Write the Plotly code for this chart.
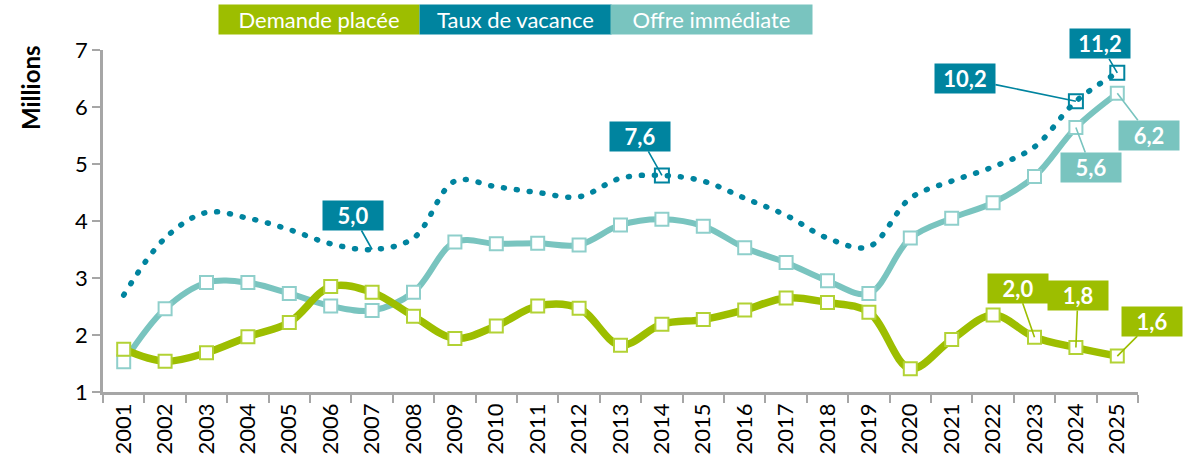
import plotly.graph_objects as go

# --- data -------------------------------------------------------------------
years = [str(y) for y in range(2001, 2026)]

# Demande placée (millions m²)
demande = [1.75, 1.54, 1.69, 1.97, 2.22, 2.85, 2.75, 2.33, 1.94, 2.16, 2.51, 2.47, 1.82,
           2.19, 2.27, 2.44, 2.65, 2.57, 2.40, 1.41, 1.92, 2.35, 1.96, 1.78, 1.63]
# Offre immédiate (millions m²)
offre = [1.53, 2.46, 2.92, 2.92, 2.73, 2.51, 2.43, 2.75, 3.63, 3.60, 3.61, 3.58, 3.93,
         4.03, 3.91, 3.53, 3.27, 2.95, 2.73, 3.70, 4.05, 4.32, 4.78, 5.64, 6.24]
# Taux de vacance (%)
taux = [3.4, 5.4, 6.3, 6.1, 5.7, 5.2, 5.0, 5.4, 7.4, 7.2, 7.0, 6.85, 7.5, 7.6, 7.4, 6.8,
        6.2, 5.4, 5.1, 6.8, 7.4, 7.9, 8.6, 10.2, 11.2]

# years carrying a value label
demande_labels = ["2023", "2024", "2025"]
offre_labels = ["2024", "2025"]
taux_labels = ["2007", "2014", "2024", "2025"]
taux_marked = ["2014", "2024", "2025"]

# --- styles -----------------------------------------------------------------
GREEN = "#9DBE00"
GREEN_EDGE = "#B2D235"
DARK = "#00849F"
LIGHT = "#79C4BF"
LIGHT_EDGE = "#8FCFCB"
AXIS = "#A6A6A6"
FONT = "Lato"

# pixel offsets (ax, ay) of the label boxes from their points
demande_offsets = [(-17, -49), (2, -52), (35, -35)]
offre_offsets = [(15, 40), (32, 42)]
taux_offsets = [(-19, -34), (-22, -39), (-111, -23), (-17, -29)]


def fmt(v):
    return f"{v:.1f}".replace(".", ",")


fig = go.Figure()

fig.add_trace(go.Scatter(
    x=years, y=offre, name="Offre immédiate", mode="lines+markers",
    line=dict(color=LIGHT, width=6, shape="spline", smoothing=1.0),
    marker=dict(symbol="square", size=13, color="white",
                line=dict(color=LIGHT_EDGE, width=2)),
))
fig.add_trace(go.Scatter(
    x=years, y=demande, name="Demande placée", mode="lines+markers",
    line=dict(color=GREEN, width=7.5, shape="spline", smoothing=1.0),
    marker=dict(symbol="square", size=13, color="white",
                line=dict(color=GREEN_EDGE, width=2)),
))
fig.add_trace(go.Scatter(
    x=years, y=taux, name="Taux de vacance", mode="lines", yaxis="y2",
    line=dict(color=DARK, width=5.5, shape="spline", smoothing=1.0, dash="1px,12px"),
))
fig.add_trace(go.Scatter(
    x=taux_marked, y=[taux[years.index(y)] for y in taux_marked], yaxis="y2",
    mode="markers", showlegend=False, hoverinfo="skip",
    marker=dict(symbol="square-open", size=14, color=DARK, line=dict(color=DARK, width=2)),
))

annotations = []


def label(year, value, offset, bg, yref):
    annotations.append(dict(
        x=years.index(year), y=value, xref="x", yref=yref, text=f"<b>{fmt(value)}</b>",
        showarrow=True, arrowhead=0, arrowwidth=1.6, arrowcolor=bg,
        ax=offset[0], ay=offset[1], standoff=0,
        bgcolor=bg, width=56, height=25, borderpad=2,
        font=dict(family=FONT, size=22, color="white"),
    ))


for yr, off in zip(demande_labels, demande_offsets):
    label(yr, demande[years.index(yr)], off, GREEN, "y")
for yr, off in zip(offre_labels, offre_offsets):
    label(yr, offre[years.index(yr)], off, LIGHT, "y")
for yr, off in zip(taux_labels, taux_offsets):
    label(yr, taux[years.index(yr)], off, DARK, "y2")

# legend drawn as coloured boxes along the top
L, R, T, B = 103, 1138, 50, 392
legend_items = [("Demande placée", GREEN, 219, 419),
                ("Taux de vacance", DARK, 420, 611),
                ("Offre immédiate", LIGHT, 611, 812)]
for text, col, x0, x1 in legend_items:
    annotations.append(dict(
        x=((x0 + x1) / 2 - L) / (R - L), y=(B - 19.5) / (B - T),
        xref="paper", yref="paper", text=text, showarrow=False,
        bgcolor=col, width=x1 - x0, height=29, borderpad=0,
        font=dict(family=FONT, size=22, color="white"),
        xanchor="center", yanchor="middle",
    ))

annotations.append(dict(
    x=(30 - L) / (R - L), y=(B - 88) / (B - T), xref="paper", yref="paper",
    text="<b>Millions</b>", textangle=-90, showarrow=False,
    font=dict(family=FONT, size=24, color="black"),
    xanchor="center", yanchor="middle",
))

fig.update_layout(
    width=1194, height=457,
    margin=dict(l=L, r=1194 - R, t=T, b=457 - B),
    paper_bgcolor="white", plot_bgcolor="white",
    showlegend=False,
    font=dict(family=FONT, size=20, color="black"),
    xaxis=dict(type="category", range=[-0.5, len(years) - 0.5], autorange=False,
               automargin=False, tickangle=-90, tickson="boundaries",
               ticks="outside", ticklen=8, tickwidth=2, tickcolor=AXIS,
               showline=True, linecolor=AXIS, linewidth=2.5, showgrid=False,
               tickfont=dict(family=FONT, size=22)),
    yaxis=dict(range=[1, 7], autorange=False, automargin=False, dtick=1,
               ticks="outside", ticklen=8, tickwidth=2, tickcolor=AXIS,
               showline=True, linecolor=AXIS, linewidth=2.5, showgrid=False,
               zeroline=False, tickfont=dict(family=FONT, size=22)),
    yaxis2=dict(range=[0, 12], autorange=False, overlaying="y", visible=False),
    annotations=annotations,
)

# round caps turn the short dashes of the vacancy line into dots
post = """
var gd = document.getElementById('{plot_id}');
gd.querySelectorAll('path.js-line').forEach(function(p){
  var d = p.style.strokeDasharray;
  if (d && d !== 'none') { p.style.strokeLinecap = 'round'; }
});
"""

fig.write_html("out.html", post_script=post)
